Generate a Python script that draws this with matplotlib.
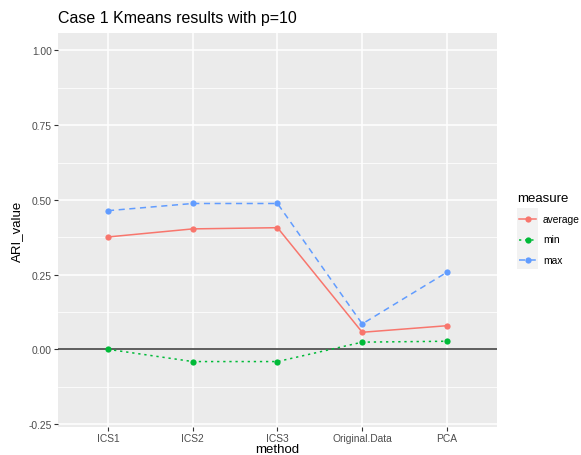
import matplotlib
matplotlib.use("Agg")
import matplotlib.pyplot as plt
from matplotlib.lines import Line2D
from matplotlib.patches import Rectangle
import numpy as np

plt.rcParams['font.family'] = ['Liberation Sans', 'DejaVu Sans']

methods = ["ICS1", "ICS2", "ICS3", "Original.Data", "PCA"]
ari_average = [0.376, 0.403, 0.407, 0.057, 0.079]
ari_min = [0.000, -0.041, -0.041, 0.024, 0.027]
ari_max = [0.464, 0.488, 0.488, 0.085, 0.258]

measures = ["average", "min", "max"]
colors = {"average": "#F8766D", "min": "#00BA38", "max": "#619CFF"}
styles = {"average": "-", "min": (0, (1.5, 2.5)), "max": (0, (4, 3))}
series = {"average": ari_average, "min": ari_min, "max": ari_max}

fig = plt.figure(figsize=(5.81, 4.56), dpi=100)
ax = fig.add_axes([0.0998, 0.0614, 0.7556, 0.864])
ax.set_facecolor("#EBEBEB")
for s in ax.spines.values():
    s.set_visible(False)

x = np.arange(len(methods))
ax.set_xlim(-0.59, len(methods) - 1 + 0.59)
ax.set_ylim(-0.26, 1.0585)

# grid
for yv in np.arange(-0.125, 1.0, 0.25):
    ax.axhline(yv, color="white", lw=0.55, zorder=0)
for yv in np.arange(-0.25, 1.01, 0.25):
    ax.axhline(yv, color="white", lw=1.1, zorder=0)
for xv in x:
    ax.axvline(xv, color="white", lw=1.1, zorder=0)

ax.axhline(0, color="#333333", lw=1.1, zorder=1)

for m in measures:
    ax.plot(x, series[m], color=colors[m], linestyle=styles[m], lw=1.1,
            marker="o", markersize=4.5, markeredgewidth=0, zorder=3)

ax.set_xticks(x)
ax.set_xticklabels(methods)
ax.set_yticks([-0.25, 0, 0.25, 0.5, 0.75, 1.0])
ax.set_yticklabels(["-0.25", "0.00", "0.25", "0.50", "0.75", "1.00"])
ax.tick_params(axis="both", length=2.8, width=0.8, color="#333333",
               labelsize=7.4, labelcolor="#4D4D4D", pad=1.5)

ax.set_xlabel("method", fontsize=9.5, labelpad=0)
ax.set_ylabel("ARI_value", fontsize=9.5, labelpad=4)
ax.set_title("Case 1 Kmeans results with p=10", fontsize=11.5, loc="left",
             x=0.0, pad=8)

# legend
W, H = 581.0, 456.0
fig.text(517 / W, 1 - 199 / H, "measure", fontsize=9.5, va="center", ha="left")
fig.patches.append(Rectangle((517 / W, 1 - 270 / H), 21 / W, 61 / H,
                             transform=fig.transFigure, facecolor="#F2F2F2",
                             edgecolor="none"))
for m, yp in zip(measures, [220, 240.5, 260.5]):
    yy = 1 - yp / H
    fig.lines.append(Line2D([519 / W, 536 / W], [yy, yy], transform=fig.transFigure,
                            color=colors[m], linestyle=styles[m], lw=1.1))
    fig.lines.append(Line2D([527.5 / W], [yy], transform=fig.transFigure,
                            color=colors[m], marker="o", markersize=4.5,
                            markeredgewidth=0))
    fig.text(543 / W, yy, m, fontsize=7.4, va="center", ha="left")

fig.savefig("out.png", dpi=100)
